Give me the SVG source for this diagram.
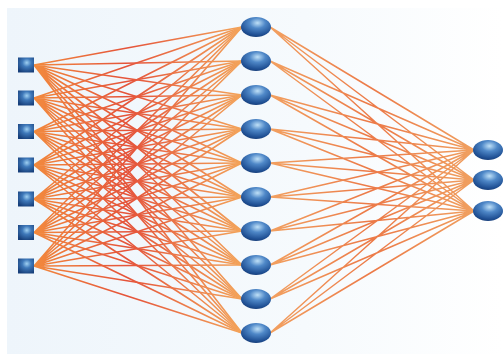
<svg xmlns="http://www.w3.org/2000/svg" width="503" height="356" viewBox="0 0 503 356">
<defs>
<linearGradient id="bg" x1="0" y1="0" x2="1" y2="0">
<stop offset="0" stop-color="#eef5fb"/><stop offset="0.6" stop-color="#f6fafd"/><stop offset="1" stop-color="#ffffff"/>
</linearGradient>
<linearGradient id="g1" gradientUnits="userSpaceOnUse" x1="34" y1="0" x2="242" y2="0">
<stop offset="0" stop-color="#f28a3e"/><stop offset="0.45" stop-color="#e5533a"/><stop offset="1" stop-color="#f3a45a"/>
</linearGradient>
<linearGradient id="g2" gradientUnits="userSpaceOnUse" x1="270" y1="0" x2="474" y2="0">
<stop offset="0" stop-color="#f2a060"/><stop offset="0.5" stop-color="#ec7a48"/><stop offset="1" stop-color="#f0a060"/>
</linearGradient>
<radialGradient id="sph" cx="0.55" cy="0.3" r="0.75">
<stop offset="0" stop-color="#bfe0f7"/><stop offset="0.35" stop-color="#4f88c8"/><stop offset="0.8" stop-color="#1f4f93"/><stop offset="1" stop-color="#163a72"/>
</radialGradient>
<radialGradient id="sq" cx="0.55" cy="0.35" r="0.7">
<stop offset="0" stop-color="#9fd0f2"/><stop offset="0.4" stop-color="#3f79ba"/><stop offset="1" stop-color="#173f7a"/>
</radialGradient>
<style>
.l1{stroke:url(#g1);stroke-width:1.6;fill:none}
.l2{stroke:url(#g2);stroke-width:1.5;fill:none}
</style>
</defs>
<rect width="503" height="356" fill="#ffffff"/>
<rect x="7" y="8" width="496" height="346" fill="url(#bg)"/>
<g id="connectors">
<g id="in-hidden">
<path class="l1" d="M34 65L242 27M34 65L242 61M34 65L242 95M34 65L242 129M34 65L242 163M34 65L242 197M34 65L242 231M34 65L242 265M34 65L242 299M34 65L242 333"/>
<path class="l1" d="M34 98L242 27M34 98L242 61M34 98L242 95M34 98L242 129M34 98L242 163M34 98L242 197M34 98L242 231M34 98L242 265M34 98L242 299M34 98L242 333"/>
<path class="l1" d="M34 131.5L242 27M34 131.5L242 61M34 131.5L242 95M34 131.5L242 129M34 131.5L242 163M34 131.5L242 197M34 131.5L242 231M34 131.5L242 265M34 131.5L242 299M34 131.5L242 333"/>
<path class="l1" d="M34 165L242 27M34 165L242 61M34 165L242 95M34 165L242 129M34 165L242 163M34 165L242 197M34 165L242 231M34 165L242 265M34 165L242 299M34 165L242 333"/>
<path class="l1" d="M34 199L242 27M34 199L242 61M34 199L242 95M34 199L242 129M34 199L242 163M34 199L242 197M34 199L242 231M34 199L242 265M34 199L242 299M34 199L242 333"/>
<path class="l1" d="M34 232.5L242 27M34 232.5L242 61M34 232.5L242 95M34 232.5L242 129M34 232.5L242 163M34 232.5L242 197M34 232.5L242 231M34 232.5L242 265M34 232.5L242 299M34 232.5L242 333"/>
<path class="l1" d="M34 266L242 27M34 266L242 61M34 266L242 95M34 266L242 129M34 266L242 163M34 266L242 197M34 266L242 231M34 266L242 265M34 266L242 299M34 266L242 333"/>
</g>
<g id="hidden-out">
<path class="l2" d="M270 27L474 150M270 27L474 180M270 27L474 211M270 61L474 150M270 61L474 180M270 61L474 211M270 95L474 150M270 95L474 180M270 95L474 211M270 129L474 150M270 129L474 180M270 129L474 211M270 163L474 150M270 163L474 180M270 163L474 211"/>
<path class="l2" d="M270 197L474 150M270 197L474 180M270 197L474 211M270 231L474 150M270 231L474 180M270 231L474 211M270 265L474 150M270 265L474 180M270 265L474 211M270 299L474 150M270 299L474 180M270 299L474 211M270 333L474 150M270 333L474 180M270 333L474 211"/>
</g>
</g>
<g id="inputs" fill="url(#sq)">
<g id="in1"><rect x="18" y="57.5" width="16" height="15"/></g>
<g id="in2"><rect x="18" y="90.5" width="16" height="15"/></g>
<g id="in3"><rect x="18" y="124" width="16" height="15"/></g>
<g id="in4"><rect x="18" y="157.5" width="16" height="15"/></g>
<g id="in5"><rect x="18" y="191.5" width="16" height="15"/></g>
<g id="in6"><rect x="18" y="225" width="16" height="15"/></g>
<g id="in7"><rect x="18" y="258.5" width="16" height="15"/></g>
</g>
<g id="hidden" fill="url(#sph)">
<g id="h1"><ellipse cx="256" cy="27" rx="15" ry="10"/></g>
<g id="h2"><ellipse cx="256" cy="61" rx="15" ry="10"/></g>
<g id="h3"><ellipse cx="256" cy="95" rx="15" ry="10"/></g>
<g id="h4"><ellipse cx="256" cy="129" rx="15" ry="10"/></g>
<g id="h5"><ellipse cx="256" cy="163" rx="15" ry="10"/></g>
<g id="h6"><ellipse cx="256" cy="197" rx="15" ry="10"/></g>
<g id="h7"><ellipse cx="256" cy="231" rx="15" ry="10"/></g>
<g id="h8"><ellipse cx="256" cy="265" rx="15" ry="10"/></g>
<g id="h9"><ellipse cx="256" cy="299" rx="15" ry="10"/></g>
<g id="h10"><ellipse cx="256" cy="333" rx="15" ry="10"/></g>
</g>
<g id="outputs" fill="url(#sph)">
<g id="o1"><ellipse cx="488" cy="150" rx="15" ry="10"/></g>
<g id="o2"><ellipse cx="488" cy="180" rx="15" ry="10"/></g>
<g id="o3"><ellipse cx="488" cy="211" rx="15" ry="10"/></g>
</g>
</svg>
